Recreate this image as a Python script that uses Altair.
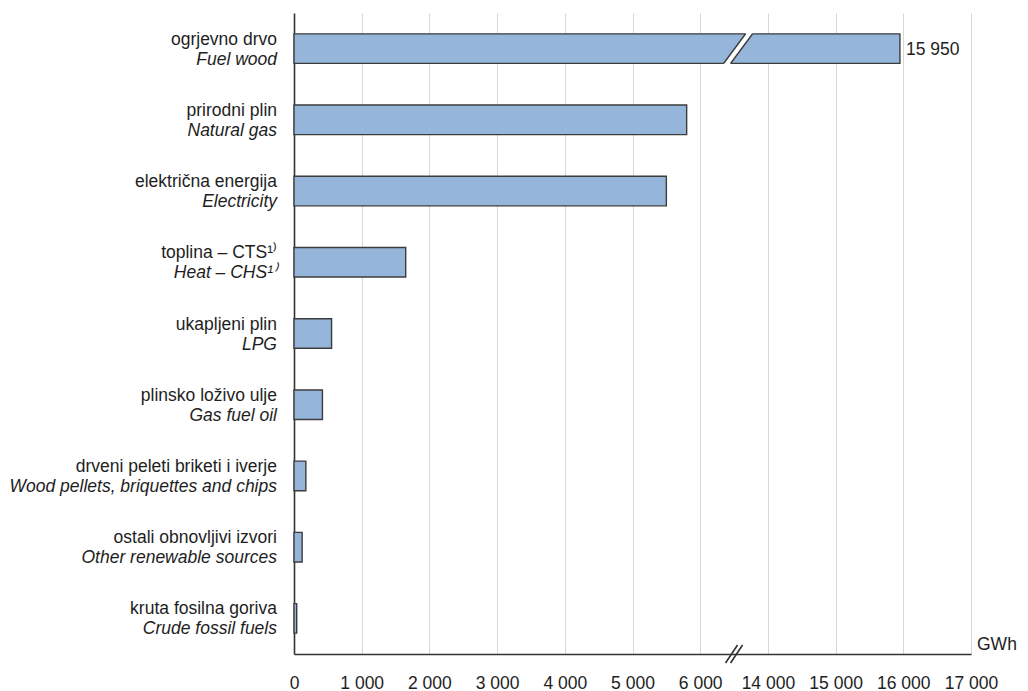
import altair as alt
import pandas as pd

# ---- data ----
cats_hr = ["ogrjevno drvo", "prirodni plin", "električna energija", "toplina – CTS¹⁾",
           "ukapljeni plin", "plinsko loživo ulje", "drveni peleti briketi i iverje",
           "ostali obnovljivi izvori", "kruta fosilna goriva"]
cats_en = ["Fuel wood", "Natural gas", "Electricity", "Heat – CHS¹⁾", "LPG", "Gas fuel oil",
           "Wood pellets, briquettes and chips", "Other renewable sources", "Crude fossil fuels"]
values = [15950, 5800, 5500, 1650, 555, 420, 175, 120, 40]

tick_values = [0, 1000, 2000, 3000, 4000, 5000, 6000, 7000, 8000, 9000, 10000]
break_at = 6500      # position of the axis break (scale units)
break_skip = 7000    # 7 000 - 13 000 GWh are cut out of the axis
gap_value = 6560     # where the fuel-wood bar is broken (scale units)

df = pd.DataFrame({"hr": cats_hr, "en": cats_en, "v": values})

W, H = 677, 641
FONT = "Liberation Sans"
TXT = "#1e1e1e"
BAR_FILL = "#96b5da"
BAR_STROKE = "#3c3c3c"
FS = 17.5

base = alt.Chart(df).transform_calculate(
    xv=f"datum.v > {break_at} ? datum.v - {break_skip} : datum.v"
)

yenc = alt.Y("en:N", sort=cats_en,
             scale=alt.Scale(paddingInner=0.585, paddingOuter=0.2925),
             axis=alt.Axis(labels=False, ticks=False, title=None, grid=False,
                           domainColor="#333333", domainWidth=1.6))

label_expr = (f"datum.value <= 6000 ? replace(format(datum.value, ','), ',', ' ') "
              f": replace(format(datum.value + {break_skip}, ','), ',', ' ')")

xenc = alt.X("xv:Q",
             scale=alt.Scale(domain=[0, 10000], nice=False),
             axis=alt.Axis(values=tick_values, labelExpr=label_expr, title=None,
                           ticks=False, grid=True, gridColor="#d6d6d6", gridWidth=1,
                           domainColor="#333333", domainWidth=1.6,
                           labelFont=FONT, labelFontSize=FS, labelColor=TXT,
                           labelPadding=20, labelFlush=False))

bars = base.mark_bar(fill=BAR_FILL, stroke=BAR_STROKE, strokeWidth=1.4).encode(x=xenc, y=yenc)

line1 = base.mark_text(align="right", baseline="alphabetic", dy=-4, font=FONT,
                       fontSize=FS, color=TXT).encode(
    y=alt.Y("en:N", sort=cats_en), x=alt.value(-17), text="hr:N")
line2 = base.mark_text(align="right", baseline="alphabetic", dy=16, font=FONT,
                       fontSize=FS, fontStyle="italic", color=TXT).encode(
    y=alt.Y("en:N", sort=cats_en), x=alt.value(-17), text="en:N")

value_lbl = base.transform_filter(f"datum.v > {break_at}").transform_calculate(
    lbl="replace(format(datum.v, ','), ',', ' ')"
).mark_text(align="left", baseline="middle", dx=6, dy=1, font=FONT, fontSize=FS,
            color=TXT).encode(x="xv:Q", y=alt.Y("en:N", sort=cats_en), text="lbl:N")

# break in the fuel-wood bar: white slanted gap + two dark edges
gap_df = pd.DataFrame({"en": [cats_en[0]], "g": [gap_value]})
gap_fill = alt.Chart(gap_df).mark_point(
    shape="M0.573,-1.1L1.039,-1.1L-0.573,1.1L-1.039,1.1Z",
    filled=True, fill="white", opacity=1, size=900, strokeWidth=0
).encode(x="g:Q", y=alt.Y("en:N", sort=cats_en))
gap_edges = alt.Chart(gap_df).mark_point(
    shape="M0.5,-0.99L-0.967,0.99M0.967,-0.99L-0.5,0.99",
    filled=False, stroke=BAR_STROKE, strokeWidth=1.4, opacity=1, size=900
).encode(x="g:Q", y=alt.Y("en:N", sort=cats_en))

# break marks on the x axis
axis_df = pd.DataFrame({"b": [break_at]})
axis_break = alt.Chart(axis_df).mark_point(
    shape="M-0.85,0.9L0.35,-0.9M-0.35,0.9L0.85,-0.9",
    filled=False, stroke="#333333", strokeWidth=1.6, opacity=1, size=400
).encode(x="b:Q", y=alt.value(H))

unit = alt.Chart(axis_df).mark_text(
    text="GWh", align="left", baseline="alphabetic", font=FONT, fontSize=FS, color=TXT
).encode(x=alt.value(W + 6), y=alt.value(H - 4))

chart = alt.layer(bars, gap_fill, gap_edges, line1, line2, value_lbl, axis_break, unit).properties(
    width=W, height=H,
    autosize=alt.AutoSizeParams(type="none"),
    padding={"left": 294, "top": 13, "right": 57, "bottom": 37},
    background="white",
).configure_view(stroke=None)

chart.save("out.html", embed_options={"renderer": "svg", "actions": False})
